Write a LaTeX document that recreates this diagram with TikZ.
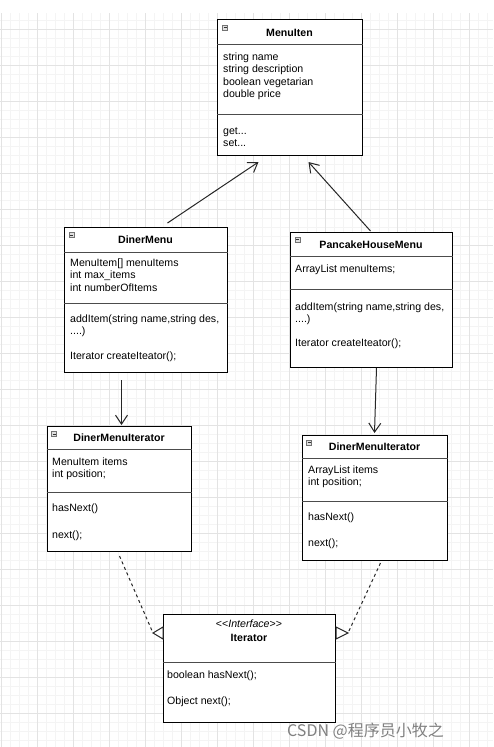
\documentclass[tikz,border=0pt]{standalone}
\usepackage{fontspec}
\setmainfont{Liberation Sans}
\newfontfamily\cjk{Noto Sans CJK SC}
\usepackage{tikz}
\usetikzlibrary{arrows.meta}
\definecolor{gridmajor}{HTML}{E3E3E3}
\definecolor{gridminor}{HTML}{F4F4F4}
\tikzset{
  minorline/.style={draw=gridminor,line width=1pt},
  majorline/.style={draw=gridmajor,line width=1pt},
  classbox/.style={draw=black,line width=1pt,fill=white,anchor=north west,inner sep=0pt},
  sepline/.style={draw=black!70,line width=1pt},
  classtitle/.style={font=\bfseries,anchor=base,inner sep=0pt},
  stereo/.style={anchor=base,inner sep=0pt},
  members/.style={anchor=north west,inner sep=0pt,align=left,yshift=8.75pt,execute at begin node=\strut},
  minusbox/.style={draw=black!55,fill=black!12,line width=0.6pt,minimum size=5pt,inner sep=0pt,
    path picture={\draw[black!80,line width=0.6pt] ([xshift=1pt]path picture bounding box.west) -- ([xshift=-1pt]path picture bounding box.east);}},
  assoc/.style={draw=black!85,line width=1pt,-{Straight Barb[length=9pt,width=12pt]}},
  realize/.style={draw=black!85,line width=1pt,dash pattern=on 3pt off 3pt},
  openhead/.style={draw=black!85,line width=1pt,fill=white,line join=miter}
}

\begin{document}
\fontsize{10.6}{12.5}\selectfont
\begin{tikzpicture}[x=1pt,y=-1pt]
\useasboundingbox (0,0) rectangle (493,747);
\foreach \gx in {1.3,10.3,...,493} \draw[minorline] (\gx,13) -- (\gx,747);
\foreach \gy in {20.3,29.3,...,747} \draw[minorline] (0,\gy) -- (493,\gy);
\foreach \gx in {1.3,37.3,...,493} \draw[majorline] (\gx,13) -- (\gx,747);
\foreach \gy in {29.3,65.3,...,747} \draw[majorline] (0,\gy) -- (493,\gy);

\node[classbox,minimum width=145pt,minimum height=136pt] (menuitem) at (217,19) {};
\draw[sepline] ([yshift=-25pt]menuitem.north west) -- ([yshift=-25pt]menuitem.north east);
\draw[sepline] ([yshift=-95pt]menuitem.north west) -- ([yshift=-95pt]menuitem.north east);
\node[minusbox] (menuitem-icon) at (225,27.5) {};
\node[classtitle] (menuitem-title) at (289.5,36) {MenuIten};
\node[members] (menuitem-attr) at (223,61) {string name\\string description\\boolean vegetarian\\double price};
\node[members] (menuitem-ops) at (223,136) {get...\\set...};

\node[classbox,minimum width=163pt,minimum height=145pt] (dinermenu) at (64,227) {};
\draw[sepline] ([yshift=-25pt]dinermenu.north west) -- ([yshift=-25pt]dinermenu.north east);
\draw[sepline] ([yshift=-76pt]dinermenu.north west) -- ([yshift=-76pt]dinermenu.north east);
\node[minusbox] (dinermenu-icon) at (71.5,235) {};
\node[classtitle] (dinermenu-title) at (145.5,243) {DinerMenu};
\node[members] (dinermenu-attr) at (70,267) {MenuItem[] menuItems\\int max\_items\\int numberOfItems};
\node[members] (dinermenu-ops) at (70,323) {addItem(string name,string des,\\....)\\[12.5pt]Iterator createIteator();};

\node[classbox,minimum width=162pt,minimum height=135pt] (pancake) at (290,232) {};
\draw[sepline] ([yshift=-24pt]pancake.north west) -- ([yshift=-24pt]pancake.north east);
\draw[sepline] ([yshift=-57pt]pancake.north west) -- ([yshift=-57pt]pancake.north east);
\node[minusbox] (pancake-icon) at (297.5,239.5) {};
\node[classtitle] (pancake-title) at (371,248) {PancakeHouseMenu};
\node[members] (pancake-attr) at (295,272) {ArrayList menuItems;};
\node[members] (pancake-ops) at (295,311) {addItem(string name,string des,\\....)\\[11.5pt]Iterator createIteator();};

\node[classbox,minimum width=144pt,minimum height=125pt] (dmi) at (47,426) {};
\draw[sepline] ([yshift=-23pt]dmi.north west) -- ([yshift=-23pt]dmi.north east);
\draw[sepline] ([yshift=-66pt]dmi.north west) -- ([yshift=-66pt]dmi.north east);
\node[minusbox] (dmi-icon) at (54,434) {};
\node[classtitle] (dmi-title) at (119,441) {DinerMenuIterator};
\node[members] (dmi-attr) at (52,466) {MenuItem items\\int position;};
\node[members] (dmi-ops) at (52,512) {hasNext()\\[14.5pt]next();};

\node[classbox,minimum width=145pt,minimum height=125pt] (pmi) at (302,435) {};
\draw[sepline] ([yshift=-23pt]pmi.north west) -- ([yshift=-23pt]pmi.north east);
\draw[sepline] ([yshift=-66pt]pmi.north west) -- ([yshift=-66pt]pmi.north east);
\node[minusbox] (pmi-icon) at (309,442.5) {};
\node[classtitle] (pmi-title) at (374.5,450) {DinerMenuIterator};
\node[members] (pmi-attr) at (308,474) {ArrayList items\\int position;};
\node[members] (pmi-ops) at (308,521) {hasNext()\\[13.5pt]next();};

\node[classbox,minimum width=172pt,minimum height=108pt] (iterator) at (163,614) {};
\draw[sepline] ([yshift=-48pt]iterator.north west) -- ([yshift=-48pt]iterator.north east);
\node[stereo] (iterator-stereo) at (249,627) {<{}<\textit{Interface}>{}>};
\node[classtitle] (iterator-title) at (249,641) {Iterator};
\node[members] (iterator-ops) at (167,679) {boolean hasNext();\\[13.5pt]Object next();};

\draw[assoc] ([xshift=21.5pt,yshift=4pt]dinermenu.north) -- ([xshift=-31.5pt,yshift=-6pt]menuitem.south);
\draw[assoc] ([xshift=-1pt,yshift=1pt]pancake.north) -- ([xshift=18.5pt,yshift=-6pt]menuitem.south);
\draw[assoc] ([xshift=-24.5pt,yshift=-7pt]dinermenu.south) -- ([xshift=2pt,yshift=1pt]dmi.north);
\draw[assoc] ([xshift=5pt]pancake.south) -- ([xshift=-0.5pt,yshift=2pt]pmi.north);

\coordinate (lefttip) at ([xshift=-10pt,yshift=-19pt]iterator.north west);
\coordinate (righttip) at ([xshift=12pt,yshift=-19pt]iterator.north east);
\draw[realize] ([yshift=-4pt]dmi.south) -- (lefttip);
\draw[realize] ([xshift=5.5pt,yshift=-2pt]pmi.south) -- (righttip);
\draw[openhead] ([yshift=-13pt]iterator.north west) -- (lefttip) -- ([yshift=-25pt]iterator.north west) -- cycle;
\draw[openhead] ([yshift=-13pt]iterator.north east) -- (righttip) -- ([yshift=-25pt]iterator.north east) -- cycle;

\node[anchor=base west,inner sep=0pt,text=black!50,font=\cjk\fontsize{16}{16}\selectfont] (watermark) at (287,736) {CSDN @程序员小牧之};
\end{tikzpicture}
\end{document}
